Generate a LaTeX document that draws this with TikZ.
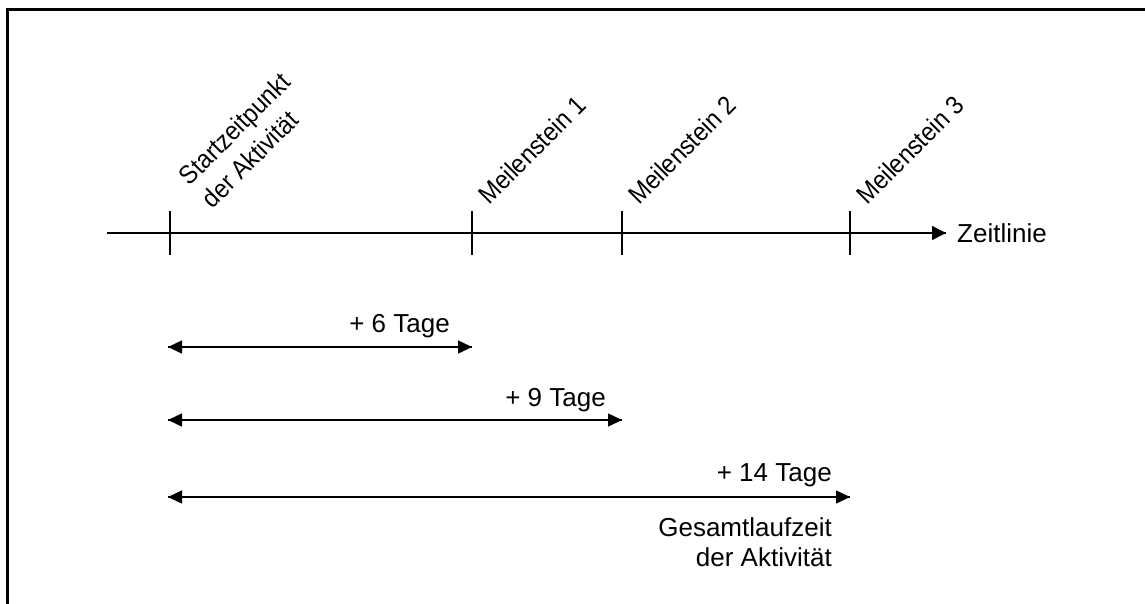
\documentclass[tikz,border=0pt]{standalone}
\usepackage{fontspec}
\setmainfont{Liberation Sans}
\usetikzlibrary{arrows.meta,calc,positioning,decorations.markings}

\begin{document}
\begin{tikzpicture}[
    x=0.03cm, y=-0.03cm,
    timearrow/.style={decoration={markings,mark=at position 1 with %
    {\arrow{Triangle[length=0.42cm,width=0.42cm]}}},postaction={decorate}},
    spanarrow/.style={decoration={markings,
    mark=at position 0 with {\arrowreversed{Triangle[length=0.42cm,width=0.39cm]}},
    mark=at position 1 with {\arrow{Triangle[length=0.42cm,width=0.39cm]}}},postaction={decorate}},
    axisline/.style={line width=0.045cm},
    frameline/.style={line width=0.09cm},
    txt/.style={inner sep=0pt,font=\fontsize{22.2}{25.6}\selectfont},
    tilted/.style={inner sep=0pt,rotate=45,xscale=0.91,font=\fontsize{22.2}{27.6}\selectfont}
  ]

    \useasboundingbox (0,0) rectangle (1145,603);
    \draw[frameline] (7.5,610) -- (7.5,9.5) -- (1150,9.5);

    % Zeitlinie
    \coordinate (tl0) at (107,233);
    \coordinate (tl1) at (946,233);
    \draw[axisline,timearrow] (tl0) -- (tl1);
    \node[txt,right=0.33cm of tl1] (zeit) {Zeitlinie};

    \coordinate (t0) at (170,233);
    \coordinate (t1) at (472,233);
    \coordinate (t2) at (622,233);
    \coordinate (t3) at (850,233);
    \foreach \t in {t0,t1,t2,t3}
      \draw[axisline] ($(\t)+(0,-22)$) -- ($(\t)+(0,22)$);

    \node[tilted,anchor=south west,align=left] (start) at ($(t0)+(43,-23)$)
      {Startzeitpunkt\\der Aktivität};
    \foreach \t/\n in {t1/1,t2/2,t3/3}
      \node[tilted,anchor=base west] (ms\n) at ($(\t)+(17,-27)$) {Meilenstein \n};

    % Dauer
    \coordinate (s6) at (168,347);
    \coordinate (s9) at (168,420);
    \coordinate (s14) at (168,497);
    \draw[axisline,spanarrow] (s6) -- (t1 |- s6) coordinate (e6);
    \draw[axisline,spanarrow] (s9) -- (t2 |- s9) coordinate (e9);
    \draw[axisline,spanarrow] (s14) -- (t3 |- s14) coordinate (e14);

    \node[txt,anchor=south east] (d6) at ($(e6)+(-22,-9)$) {+ 6 Tage};
    \node[txt,anchor=south east] (d9) at ($(e9)+(-16,-8)$) {+ 9 Tage};
    \node[txt,anchor=south east] (d14) at ($(e14)+(-18,-10)$) {+ 14 Tage};
    \node[txt,anchor=north east,align=right] (gesamt) at ($(e14)+(-18,20)$)
      {Gesamtlaufzeit\\der Aktivität};

  \end{tikzpicture}
\end{document}
